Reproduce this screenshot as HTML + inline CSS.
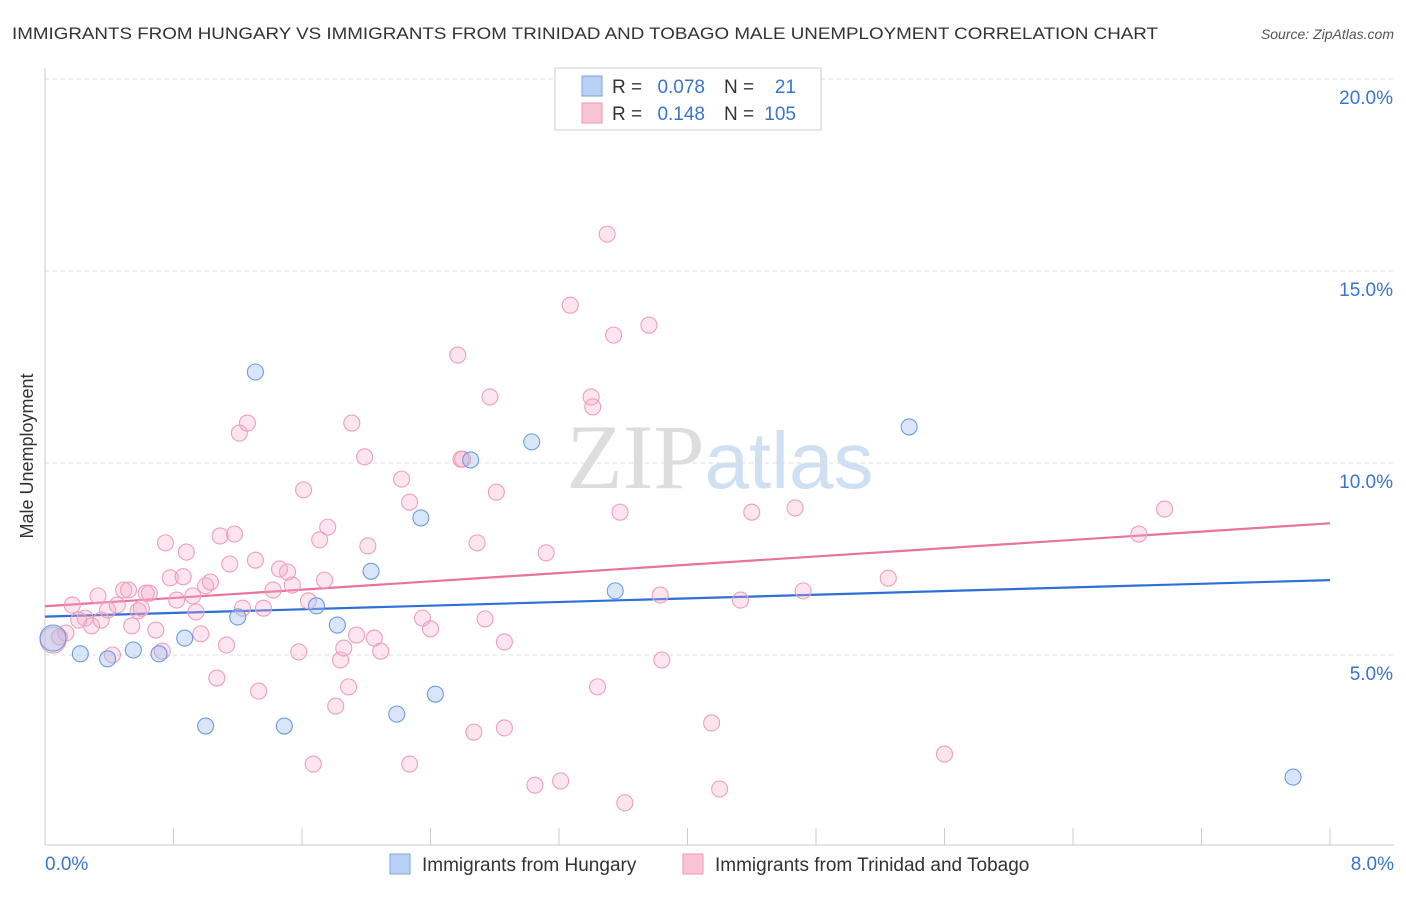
<!DOCTYPE html>
<html><head><meta charset="utf-8"><style>
body{margin:0;background:#fff;font-family:"Liberation Sans",sans-serif;}
svg text{font-family:"Liberation Sans",sans-serif;}
</style></head><body>
<svg id="chart" width="1406" height="892" xmlns="http://www.w3.org/2000/svg">
<text x="12" y="39" font-size="17" fill="#333" textLength="1146" lengthAdjust="spacingAndGlyphs">IMMIGRANTS FROM HUNGARY VS IMMIGRANTS FROM TRINIDAD AND TOBAGO MALE UNEMPLOYMENT CORRELATION CHART</text>
<text x="1394" y="39" font-size="14" fill="#555" font-style="italic" text-anchor="end">Source: ZipAtlas.com</text>
<text x="720" y="488" font-size="92" text-anchor="middle"><tspan fill="#ddd" font-family="Liberation Serif">ZIP</tspan><tspan fill="#cfe0f3" font-size="80">atlas</tspan></text>
<text transform="translate(33,456) rotate(-90)" font-size="18" fill="#333" text-anchor="middle">Male Unemployment</text>
<g id="grid"></g><g id="axes"></g><g id="trends"></g><g id="points"></g>
<g font-size="19">
<rect x="555" y="68" width="266" height="62" fill="#fff" stroke="#ccc"/>
<rect x="582" y="76" width="20" height="20" fill="#b9d1f3" stroke="#7aa3e0"/>
<rect x="582" y="103" width="20" height="20" fill="#f9c4d6" stroke="#eb98b5"/>
<text x="612" y="93" fill="#333">R =</text><text x="705" y="93" fill="#3a73d0" text-anchor="end">0.078</text>
<text x="724" y="93" fill="#333">N =</text><text x="796" y="93" fill="#3a73d0" text-anchor="end">21</text>
<text x="612" y="120" fill="#333">R =</text><text x="705" y="120" fill="#3a73d0" text-anchor="end">0.148</text>
<text x="724" y="120" fill="#333">N =</text><text x="796" y="120" fill="#3a73d0" text-anchor="end">105</text>
</g>
<g>
<rect x="390" y="854" width="20" height="20" fill="#b9d1f3" stroke="#7aa3e0"/>
<text x="422" y="871" font-size="19" fill="#333">Immigrants from Hungary</text>
<rect x="683" y="854" width="20" height="20" fill="#f9c4d6" stroke="#eb98b5"/>
<text x="715" y="871" font-size="19" fill="#333">Immigrants from Trinidad and Tobago</text>
</g>
</svg>
<script>
const yTicks=[5,10,15,20];
const xTickLabels=["0.0%","8.0%"];
const blueX=[0.05,0.22,0.39,0.55,0.71,0.87,1.0,1.2,1.31,1.49,1.69,1.82,2.03,2.19,2.34,2.43,2.65,3.03,3.55,5.38,7.77];
const blueY=[5.44,5.03,4.9,5.13,5.03,5.44,3.15,5.99,12.37,3.15,6.28,5.78,7.18,3.46,8.57,3.98,10.08,10.55,6.67,10.94,1.82];
const pinkX=[0.05,0.09,0.13,0.17,0.21,0.25,0.29,0.33,0.35,0.39,0.42,0.45,0.49,0.52,0.54,0.58,0.6,0.63,0.65,0.69,0.73,0.75,0.78,0.82,0.86,0.88,0.92,0.94,0.97,1.0,1.03,1.07,1.09,1.13,1.15,1.18,1.21,1.23,1.26,1.31,1.33,1.36,1.42,1.46,1.51,1.54,1.58,1.61,1.64,1.67,1.71,1.74,1.76,1.81,1.84,1.86,1.89,1.91,1.94,1.99,2.01,2.05,2.09,2.22,2.27,2.27,2.35,2.4,2.57,2.6,2.67,2.69,2.74,2.77,2.81,2.86,2.86,3.05,3.12,3.21,3.27,3.4,3.44,3.5,3.54,3.58,3.61,3.76,3.83,3.84,4.15,4.2,4.33,4.4,4.67,4.72,5.25,5.6,6.81,6.97,3.41,2.59];
const pinkY=[5.39,5.47,5.57,6.3,5.91,5.96,5.76,6.54,5.91,6.17,5.0,6.3,6.69,6.69,5.76,6.15,6.22,6.61,6.61,5.65,5.1,7.92,7.01,6.43,7.04,7.68,6.54,6.12,5.55,6.8,6.9,4.4,8.1,5.26,7.37,8.15,10.78,6.22,11.04,7.47,4.06,6.22,6.69,7.24,7.16,6.82,5.08,9.3,6.41,2.16,8.0,6.95,8.33,3.67,4.87,5.18,4.17,11.04,5.52,10.16,7.84,5.44,5.1,9.58,2.16,8.98,5.96,5.68,12.81,10.1,2.99,7.92,5.94,11.72,9.24,3.1,5.34,1.61,7.66,1.72,14.11,11.72,4.17,15.96,13.33,8.72,1.15,13.59,6.56,4.87,3.23,1.51,6.43,8.72,8.83,6.67,7.0,2.42,8.15,8.8,11.46,10.1];
const trendBlue=[6.0,6.95];
const trendPink=[6.27,8.43];
const NS="http://www.w3.org/2000/svg";
const X=v=>45+v*(1285/8), Y=v=>847-v*38.4;
function mk(tag,attrs,parent){const e=document.createElementNS(NS,tag);for(const k in attrs)e.setAttribute(k,attrs[k]);document.getElementById(parent).appendChild(e);return e;}
yTicks.forEach(t=>{
 const l=mk('line',{x1:45,x2:1394,y1:Y(t),y2:Y(t),stroke:'#ddd','stroke-dasharray':'4,4'},'grid');
 
 
 const tx=mk('text',{x:1393,y:Y(t)+25,'font-size':19,fill:'#3a73d0','text-anchor':'end'},'grid');
 tx.textContent=t.toFixed(1)+'%';
 
 
});
const ax=mk('line',{x1:45,x2:45,y1:68,y2:845,stroke:'#ccc'},'axes');


const bx=mk('line',{x1:45,x2:1394,y1:845,y2:845,stroke:'#ccc'},'axes');


for(let i=0;i<=10;i++){const t=mk('line',{x1:X(i*0.8),x2:X(i*0.8),y1:828,y2:845,stroke:'#ccc'},'axes');
 
 }
[[0,'start',45],[8,'end',1394]].forEach((d,i)=>{const t=mk('text',{x:d[2],y:870,'font-size':19,fill:'#3a73d0','text-anchor':d[1]},'axes');t.textContent=xTickLabels[i];
 
 });
const tb=mk('line',{x1:X(0),x2:X(8),y1:Y(trendBlue[0]),y2:Y(trendBlue[1]),stroke:'#2f6fd6','stroke-width':2.2},'trends');


const tp=mk('line',{x1:X(0),x2:X(8),y1:Y(trendPink[0]),y2:Y(trendPink[1]),stroke:'#e8739c','stroke-width':2.2},'trends');


pinkX.forEach((x,i)=>{const c=mk('circle',{cx:X(x),cy:Y(pinkY[i]),r:i==0?13:8,fill:'rgba(246,170,198,0.3)',stroke:'#ee9fbb','stroke-width':1.1},'points');
 
 });
blueX.forEach((x,i)=>{const c=mk('circle',{cx:X(x),cy:Y(blueY[i]),r:i==0?13:8,fill:'rgba(160,192,240,0.4)',stroke:'#6d9be0','stroke-width':1.1},'points');
 
 });
</script>
</body></html>
